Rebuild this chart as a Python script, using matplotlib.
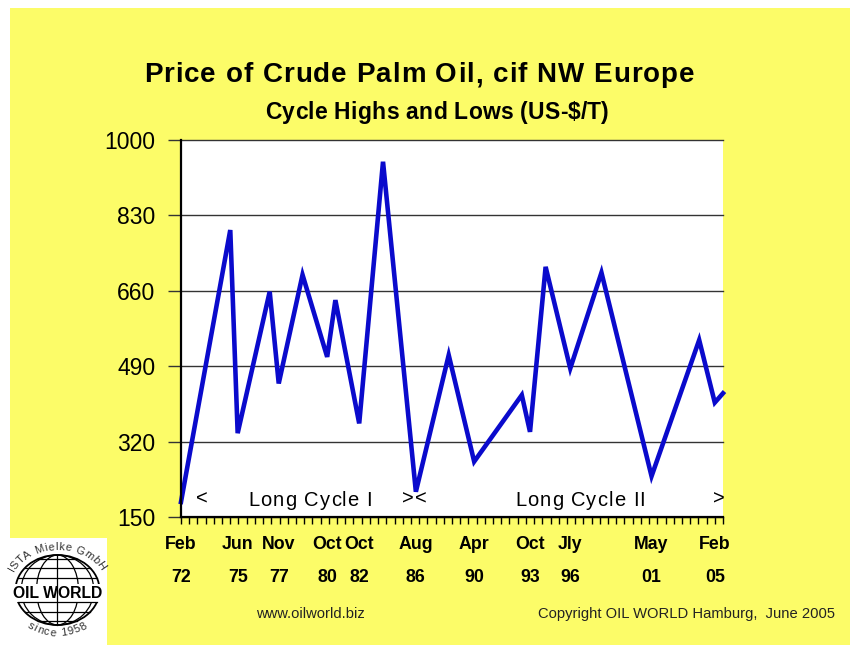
import numpy as np
import matplotlib
matplotlib.use("Agg")
import matplotlib.pyplot as plt
from matplotlib.patches import Rectangle, Ellipse
from matplotlib.font_manager import FontProperties
from matplotlib.textpath import TextToPath

# Crude palm oil, cif NW Europe: cycle highs and lows (US-$/T)
# position on the time axis, in half-year steps counted from Feb 1972
half_years = [0, 6, 6.9, 10.8, 11.9, 14.8, 17.8, 18.8, 21.7, 24.6, 28.6,
              32.6, 35.7, 41.5, 42.5, 44.4, 47.4, 51.2, 57.3, 63.1, 65.0, 66]
prices = [184, 797, 339, 658, 451, 696, 511, 639, 361, 951, 207,
          515, 275, 425, 342, 714, 485, 701, 242, 549, 408, 429]

# every low carries its month / year
low_index = [0, 2, 4, 6, 8, 10, 12, 14, 16, 18, 20]
low_months = ["Feb", "Jun", "Nov", "Oct", "Oct", "Aug", "Apr", "Oct", "Jly", "May", "Feb"]
low_years = ["72", "75", "77", "80", "82", "86", "90", "93", "96", "01", "05"]

y_ticks = [150, 320, 490, 660, 830, 1000]
n_periods = 66

W, H, DPI = 850, 645, 100
YELLOW = "#FCFC68"
BLUE = "#0A0ACC"
GRID = "#333333"

plt.rcParams["font.family"] = ["Liberation Sans", "DejaVu Sans"]

fig = plt.figure(figsize=(W / DPI, H / DPI), dpi=DPI)
fig.patch.set_facecolor("white")

# background layer in pixel coordinates (y pointing down)
bg = fig.add_axes([0, 0, 1, 1], zorder=0)
bg.set_xlim(0, W)
bg.set_ylim(H, 0)
bg.axis("off")
bg.add_patch(Rectangle((10, 8), W - 10, H - 8, facecolor=YELLOW, edgecolor="none"))
bg.add_patch(Rectangle((0, 538), 107, H - 538, facecolor="white", edgecolor="none"))

# chart
ax = fig.add_axes([181 / W, 1 - 517 / H, 542 / W, 377 / H], zorder=1)
ax.set_facecolor("white")
ax.set_xlim(0, n_periods)
ax.set_ylim(y_ticks[0], y_ticks[-1])
ax.set_yticks(y_ticks)
ax.set_yticklabels([str(v) for v in y_ticks])
ax.tick_params(axis="y", length=9.4, width=1, color=GRID, pad=9.0,
               labelsize=16.5, labelcolor="black")
ax.set_xticks(np.arange(0, n_periods + 1))
ax.tick_params(axis="x", length=5, width=1, color="black", direction="out",
               labelbottom=False)
ax.grid(axis="y", color=GRID, lw=1)
for gl in ax.get_ygridlines():
    gl.set_clip_on(False)
for side in ("top", "right"):
    ax.spines[side].set_visible(False)
for side in ("left", "bottom"):
    ax.spines[side].set_linewidth(1.6)
    ax.spines[side].set_color("black")
    ax.spines[side].set_zorder(4)

ax.plot(half_years, prices, color=BLUE, lw=3.3, solid_joinstyle="miter",
        clip_on=False, zorder=3)

xt = ax.get_xaxis_transform()
for i, m, yr in zip(low_index, low_months, low_years):
    ax.text(half_years[i], -0.0849, m, transform=xt, ha="center", va="baseline",
            fontsize=12.8, fontweight="bold")
    ax.text(half_years[i], -0.1724, yr, transform=xt, ha="center", va="baseline",
            fontsize=12.8, fontweight="bold")

# overlay layer for titles, notes and the logo
fg = fig.add_axes([0, 0, 1, 1], zorder=3)
fg.set_xlim(0, W)
fg.set_ylim(H, 0)
fg.axis("off")

_t2p = TextToPath()


def advance(ch, fp):
    w1 = _t2p.get_text_width_height_descent("x" + ch + "x", fp, ismath=False)[0]
    w0 = _t2p.get_text_width_height_descent("xx", fp, ismath=False)[0]
    return (w1 - w0) * DPI / 72.0


def spaced_text(axis, cx, y, s, fp, width=None, spacing=0.0, color="black"):
    adv = [advance(c, fp) for c in s]
    if width is not None and len(s) > 1:
        spacing = (width - sum(adv)) / (len(s) - 1)
    total = sum(adv) + spacing * (len(s) - 1)
    x = cx - total / 2.0
    for c, a in zip(s, adv):
        if c != " ":
            axis.text(x + a / 2.0, y, c, fontproperties=fp, ha="center",
                      va="baseline", color=color)
        x += a + spacing


def arc_text(axis, cx, cy, rx, ry, s, fp, theta_mid, top=True, gap=0.0, color="black"):
    adv = [advance(c, fp) for c in s]
    r = 0.5 * (rx + ry)
    total = sum(adv) + gap * (len(s) - 1)
    ang = np.radians(theta_mid) + (total / 2.0 / r if top else -total / 2.0 / r)
    for c, a in zip(s, adv):
        step = (a / 2.0) / r
        ang = ang - step if top else ang + step
        px = cx + rx * np.cos(ang)
        py = cy - ry * np.sin(ang)
        rot = np.degrees(ang) - 90 if top else np.degrees(ang) + 90
        if c != " ":
            axis.text(px, py, c, fontproperties=fp, ha="center", va="center",
                      rotation=rot, rotation_mode="anchor", color=color)
        step = (a / 2.0 + gap) / r
        ang = ang - step if top else ang + step


title_fp = FontProperties(family="Liberation Sans", weight="bold", size=20)
sub_fp = FontProperties(family="Liberation Sans", weight="bold", size=16.5)
spaced_text(fg, 419, 82.5, "Price of Crude Palm Oil, cif NW Europe", title_fp, width=550)
spaced_text(fg, 437, 119, "Cycle Highs and Lows (US-$/T)", sub_fp, width=344)

cyc_fp = FontProperties(family="Liberation Sans", size=14.5)
spaced_text(fg, 310, 506.5, "Long Cycle I", cyc_fp, width=124)
spaced_text(fg, 580, 506.5, "Long Cycle II", cyc_fp, width=130)
for xpix, mark in ((201.7, "<"), (408, ">"), (421, "<"), (719, ">")):
    spaced_text(fg, xpix, 505, mark, cyc_fp)

foot_fp = FontProperties(family="Liberation Sans", size=10.6)
fg.text(310, 617.5, "www.oilworld.biz", fontproperties=foot_fp, ha="center",
        va="baseline", color="#222222")
fg.text(687, 618, "Copyright OIL WORLD Hamburg,  June 2005", fontproperties=foot_fp,
        ha="center", va="baseline", color="#222222")

# OIL WORLD globe emblem
gx, gy, grx, gry = 57.5, 590, 42, 35
fg.add_patch(Ellipse((gx, gy), 2 * grx, 2 * gry, facecolor="white",
                     edgecolor="black", lw=1.3))
for lon in (30, 60):
    fg.add_patch(Ellipse((gx, gy), 2 * grx * np.sin(np.radians(lon)), 2 * gry,
                         facecolor="none", edgecolor="black", lw=0.9))
fg.plot([gx, gx], [gy - gry, gy + gry], color="black", lw=0.9)
for lat in (-62, -40, -20, 20, 40, 62):
    yy = gy - gry * np.sin(np.radians(lat))
    hw = grx * np.cos(np.radians(lat))
    fg.plot([gx - hw, gx + hw], [yy, yy], color="black", lw=0.9)
fg.add_patch(Rectangle((12, 584), 91, 18, facecolor="white", edgecolor="none"))
fg.text(gx, 593.5, "OIL WORLD", ha="center", va="center", fontsize=11.3,
        fontweight="bold", color="black")
logo_fp = FontProperties(family="Liberation Sans", size=8.0)
arc_text(fg, gx, gy, 52, 43, "ISTA Mielke GmbH", logo_fp, 91, top=True, gap=0.5,
         color="#333333")
arc_text(fg, gx, gy, 49, 43, "since 1958", logo_fp, 270, top=False, gap=0.5,
         color="#333333")

fig.savefig("out.png", dpi=DPI, facecolor=fig.get_facecolor())
